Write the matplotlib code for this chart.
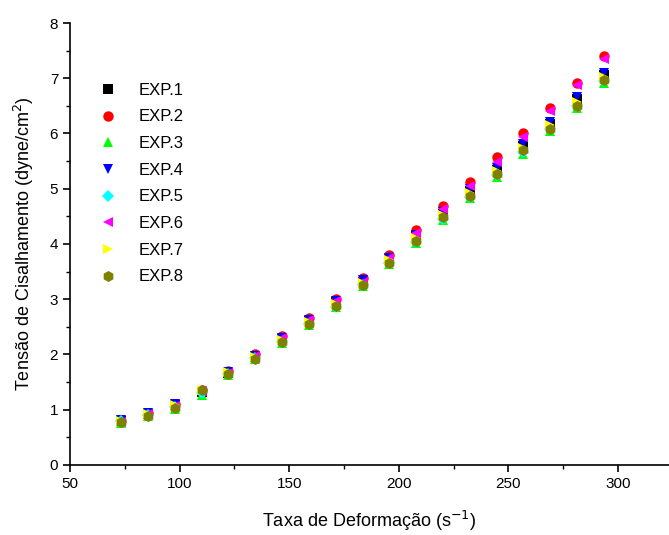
import matplotlib
matplotlib.use("Agg")
import matplotlib.pyplot as plt
from matplotlib.ticker import MultipleLocator

plt.rcParams['font.family'] = ['Liberation Sans', 'DejaVu Sans']

# shear rate (1/s)
taxa = [73.4, 85.6, 97.9, 110.1, 122.3, 134.6, 146.8, 159.0, 171.2, 183.5,
        195.7, 207.9, 220.2, 232.4, 244.6, 256.9, 269.1, 281.3, 293.6]

# shear stress (dyne/cm2) for each run
exp1 = [0.80, 0.92, 1.08, 1.32, 1.67, 1.96, 2.28, 2.61, 2.95, 3.31,
        3.72, 4.14, 4.55, 4.96, 5.34, 5.77, 6.18, 6.62, 7.05]
exp2 = [0.80, 0.94, 1.10, 1.35, 1.70, 2.00, 2.33, 2.66, 3.00, 3.38,
        3.80, 4.25, 4.69, 5.13, 5.58, 6.01, 6.47, 6.92, 7.41]
exp3 = [0.76, 0.89, 1.02, 1.27, 1.63, 1.91, 2.21, 2.53, 2.85, 3.23,
        3.63, 4.01, 4.43, 4.83, 5.22, 5.63, 6.05, 6.46, 6.92]
exp4 = [0.81, 0.94, 1.10, 1.32, 1.68, 1.98, 2.30, 2.63, 2.97, 3.34,
        3.74, 4.16, 4.58, 5.00, 5.37, 5.81, 6.21, 6.66, 7.09]
exp5 = [0.80, 0.91, 1.05, 1.30, 1.65, 1.93, 2.23, 2.55, 2.86, 3.25,
        3.65, 4.04, 4.46, 4.85, 5.25, 5.67, 6.08, 6.49, 6.95]
exp6 = [0.78, 0.92, 1.07, 1.33, 1.67, 1.97, 2.30, 2.62, 2.97, 3.32,
        3.75, 4.20, 4.63, 5.05, 5.49, 5.94, 6.41, 6.88, 7.35]
exp7 = [0.80, 0.93, 1.08, 1.35, 1.68, 1.96, 2.27, 2.59, 2.92, 3.30,
        3.71, 4.11, 4.53, 4.93, 5.32, 5.74, 6.15, 6.57, 7.02]
exp8 = [0.77, 0.89, 1.03, 1.36, 1.64, 1.92, 2.23, 2.55, 2.87, 3.26,
        3.66, 4.06, 4.48, 4.87, 5.26, 5.70, 6.09, 6.50, 6.97]

series = [exp1, exp2, exp3, exp4, exp5, exp6, exp7, exp8]
labels = ['EXP.1', 'EXP.2', 'EXP.3', 'EXP.4', 'EXP.5', 'EXP.6', 'EXP.7', 'EXP.8']
colors = ['#000000', '#ff0000', '#00ff00', '#0000ff', '#00ffff', '#ff00ff', '#ffff00', '#808000']
markers = ['s', 'o', '^', 'v', 'D', '<', '>', 'h']
sizes = [6.5, 7.5, 7.5, 7.5, 6, 7.5, 7.5, 8]

fig = plt.figure(figsize=(6.69, 5.35), dpi=100)
ax = fig.add_axes([0.1046, 0.131, 0.8954, 0.826])

for ys, lab, c, m, s in zip(series, labels, colors, markers, sizes):
    ax.plot(taxa, ys, linestyle='none', marker=m, markersize=s,
            color=c, markeredgewidth=0, label=lab)

ax.set_xlim(50, 323.3)
ax.set_ylim(0, 8)
ax.xaxis.set_major_locator(MultipleLocator(50))
ax.xaxis.set_minor_locator(MultipleLocator(25))
ax.yaxis.set_major_locator(MultipleLocator(1))
ax.yaxis.set_minor_locator(MultipleLocator(0.5))
ax.tick_params(which='major', direction='out', length=5, width=1.2, labelsize=11)
ax.tick_params(which='minor', direction='out', length=3, width=1.0)

ax.spines['top'].set_visible(False)
ax.spines['right'].set_visible(False)
ax.spines['left'].set_linewidth(1.2)
ax.spines['bottom'].set_linewidth(1.2)

ax.set_xlabel('Taxa de Deformação (s$^{-1}$)', fontsize=13, labelpad=13)
ax.set_ylabel('Tensão de Cisalhamento (dyne/cm$^{2}$)', fontsize=13, labelpad=10)

ax.legend(loc='upper left', bbox_to_anchor=(0.025, 0.88), frameon=False,
          fontsize=12, handletextpad=0.8, labelspacing=0.7, borderaxespad=0)

fig.savefig('out.png', dpi=100)
